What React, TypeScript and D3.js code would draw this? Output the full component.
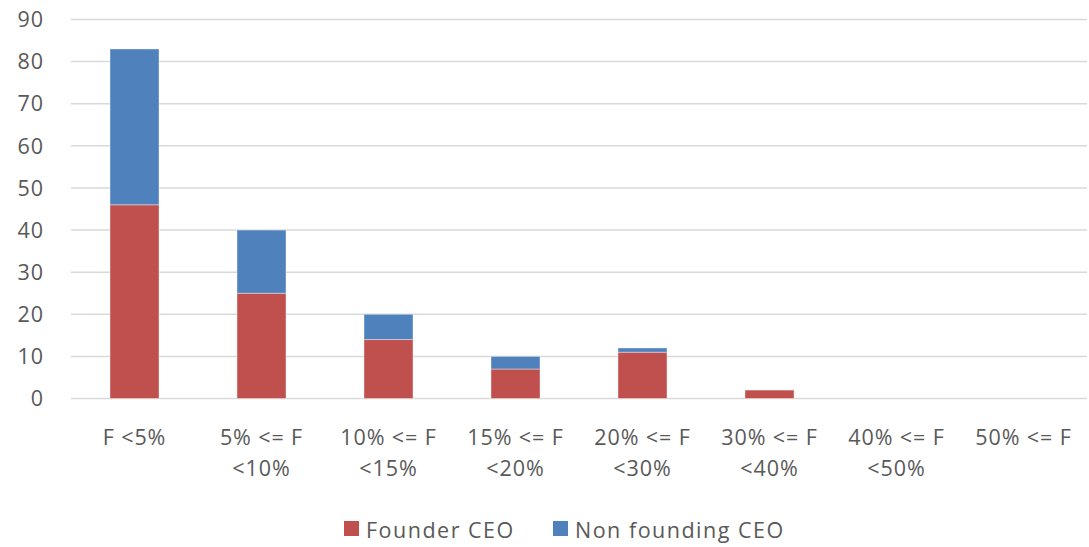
import React from "react";
import * as d3 from "d3";

const categories: string[][] = [
  ["F <5%"],
  ["5% <= F", "<10%"],
  ["10% <= F", "<15%"],
  ["15% <= F", "<20%"],
  ["20% <= F", "<30%"],
  ["30% <= F", "<40%"],
  ["40% <= F", "<50%"],
  ["50% <= F"],
];
const founderCEO = [46, 25, 14, 7, 11, 2, 0, 0];
const nonFoundingCEO = [37, 15, 6, 3, 1, 0, 0, 0];
const yTicks = [0, 10, 20, 30, 40, 50, 60, 70, 80, 90];
const seriesNames = ["Founder CEO", "Non founding CEO"];
const colors = ["#C0504D", "#4F81BD"];

const W = 1089;
const H = 547;
const left = 71;
const right = 1087;
const top = 19.5;
const bottom = 398.5;
const font = "'Open Sans', sans-serif";
const fs = 21.5;
const ls = 0.9;
const textColor = "#595959";

export default function App() {
  const x = d3
    .scaleBand<number>()
    .domain(d3.range(categories.length))
    .range([left, right])
    .paddingInner(0.614)
    .paddingOuter(0.307);
  const y = d3.scaleLinear().domain([0, 90]).range([bottom, top]);
  const rows = categories.map((_, i) => ({ i, f: founderCEO[i], n: nonFoundingCEO[i] }));
  const stack = d3.stack<any>().keys(["f", "n"])(rows);

  return (
    <svg width={W} height={H} style={{ position: "absolute", left: 0, top: 0 }}>
      <rect width={W} height={H} fill="#fff" />
      {yTicks.map((t) => (
        <g key={t}>
          <line x1={left} x2={right} y1={y(t)} y2={y(t)} stroke="#D9D9D9" strokeWidth={1.5} />
          <text x={44} y={y(t)} dy="0.36em" textAnchor="end" fontFamily={font} fontSize={fs} letterSpacing={ls} fill={textColor}>
            {t}
          </text>
        </g>
      ))}
      {stack.map((layer, si) => (
        <g key={si}>
          {layer.map((d, i) =>
            d[1] - d[0] > 0 ? (
              <rect
                key={i}
                x={x(i)!}
                width={x.bandwidth()}
                y={y(d[1])}
                height={y(d[0]) - y(d[1])}
                fill={colors[si]}
                stroke="#fff"
                strokeOpacity={0.4}
                strokeWidth={1}
              />
            ) : null
          )}
        </g>
      ))}
      {categories.map((lines, i) => (
        <text key={i} textAnchor="middle" fontFamily={font} fontSize={fs} letterSpacing={ls} fill={textColor}>
          {lines.map((l, k) => (
            <tspan key={k} x={x(i)! + x.bandwidth() / 2} y={445 + k * 31}>
              {l}
            </tspan>
          ))}
        </text>
      ))}
      <g>
        {seriesNames.map((s, si) => {
          const lx = si === 0 ? 344 : 553;
          return (
            <g key={s}>
              <rect x={lx} y={521} width={15} height={15} fill={colors[si]} />
              <text x={lx + 22} y={538} fontFamily={font} fontSize={fs} letterSpacing={1.5} fill={textColor}>
                {s}
              </text>
            </g>
          );
        })}
      </g>
    </svg>
  );
}
